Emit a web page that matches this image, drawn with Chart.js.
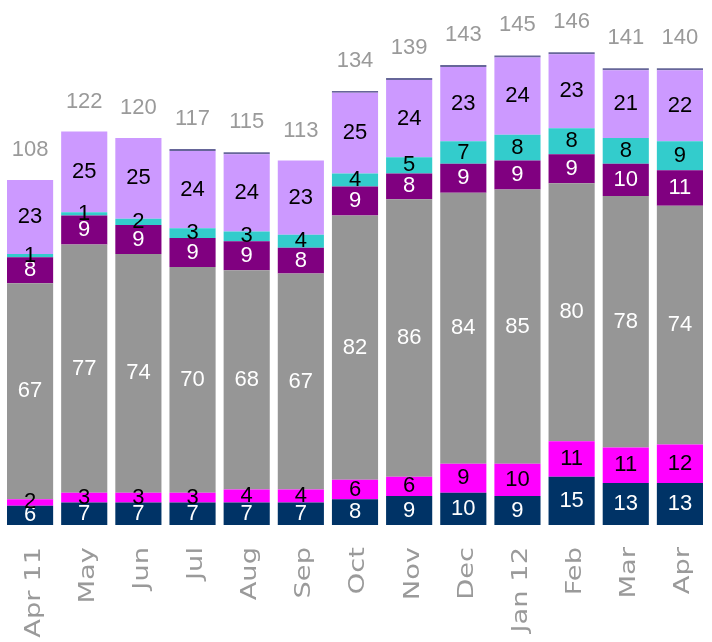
<!DOCTYPE html>
<html>
<head>
<meta charset="utf-8">
<script src="https://cdn.jsdelivr.net/npm/chart.js@4"></script>
<style>
    html, body { margin: 0; padding: 0; background: #fff; }
    #wrap { width: 712px; height: 642px; }
</style>
</head>
<body>
<div id="wrap"><canvas id="chart"></canvas></div>
<script>
const months = ["Apr 11", "May", "Jun", "Jul", "Aug", "Sep", "Oct", "Nov", "Dec", "Jan 12", "Feb", "Mar", "Apr"];

const navy     = [6, 7, 7, 7, 7, 7, 8, 9, 10, 9, 15, 13, 13];
const magenta  = [2, 3, 3, 3, 4, 4, 6, 6, 9, 10, 11, 11, 12];
const grey     = [67, 77, 74, 70, 68, 67, 82, 86, 84, 85, 80, 78, 74];
const purple   = [8, 9, 9, 9, 9, 8, 9, 8, 9, 9, 9, 10, 11];
const teal     = [1, 1, 2, 3, 3, 4, 4, 5, 7, 8, 8, 8, 9];
const lavender = [23, 25, 25, 24, 24, 23, 25, 24, 23, 24, 23, 21, 22];
const thin     = [0, 0, 0, 0.6, 0.6, 0, 0.6, 0.6, 0.6, 0.6, 0.6, 0.6, 0.6];
const totals   = [108, 122, 120, 117, 115, 113, 134, 139, 143, 145, 146, 141, 140];

// value labels inside the segments + totals on top
const labelPlugin = {
    id: "labels",
    afterDatasetsDraw(chart) {
        const ctx = chart.ctx;
        ctx.save();
        ctx.textAlign = "center";
        chart.data.datasets.forEach((ds, i) => {
            if (!ds.showLabel) return;
            const meta = chart.getDatasetMeta(i);
            ctx.font = "22px 'Liberation Sans', Arial, sans-serif";
            ctx.fillStyle = ds.labelColor;
            ctx.textBaseline = "middle";
            meta.data.forEach((bar, j) => {
                const v = ds.data[j];
                if (!v) return;
                ctx.fillText(String(v), bar.x, (bar.y + bar.base) / 2);
            });
        });
        // totals
        const last = chart.getDatasetMeta(chart.data.datasets.length - 1);
        ctx.font = "22px 'Liberation Sans', Arial, sans-serif";
        ctx.fillStyle = "#9a9a9a";
        ctx.textBaseline = "alphabetic";
        last.data.forEach((bar, j) => {
            ctx.fillText(String(totals[j]), bar.x, bar.y - 24);
        });
        ctx.restore();
    },
    // month labels: rotated and stretched along the text like the original
    afterDraw(chart) {
        const ctx = chart.ctx;
        const xs = chart.scales.x;
        ctx.save();
        ctx.font = "21px 'DejaVu Sans', sans-serif";
        ctx.fillStyle = "#9a9a9a";
        ctx.textAlign = "right";
        ctx.textBaseline = "middle";
        xs.getLabels().forEach((lbl, i) => {
            ctx.save();
            ctx.translate(xs.getPixelForTick(i) + 4, xs.bottom + 22);
            ctx.rotate(-Math.PI / 2);
            ctx.scale(1.3, 1);
            ctx.fillText(lbl, 0, 0);
            ctx.restore();
        });
        ctx.restore();
    }
};

new Chart(document.getElementById("chart"), {
    type: "bar",
    data: {
        labels: months,
        datasets: [
            { data: navy, backgroundColor: "#003366", showLabel: true, labelColor: "#ffffff" },
            { data: magenta, backgroundColor: "#ff00ff", showLabel: true, labelColor: "#000000" },
            { data: grey, backgroundColor: "#969696", showLabel: true, labelColor: "#ffffff" },
            { data: purple, backgroundColor: "#800080", showLabel: true, labelColor: "#ffffff" },
            { data: teal, backgroundColor: "#33cccc", showLabel: true, labelColor: "#000000" },
            { data: lavender, backgroundColor: "#cc99ff", showLabel: true, labelColor: "#000000" },
            { data: thin, backgroundColor: "#666699", showLabel: false }
        ]
    },
    options: {
        responsive: true,
        maintainAspectRatio: false,
        animation: false,
        layout: { padding: { left: 3, right: 5, top: 9, bottom: 117 } },
        datasets: {
            bar: { barPercentage: 0.852, categoryPercentage: 1, borderWidth: 0 }
        },
        plugins: {
            legend: { display: false },
            tooltip: { enabled: false }
        },
        scales: {
            x: {
                stacked: true,
                display: false
            },
            y: {
                stacked: true,
                display: false,
                min: 0,
                max: 160
            }
        }
    },
    plugins: [labelPlugin]
});
</script>
</body>
</html>
